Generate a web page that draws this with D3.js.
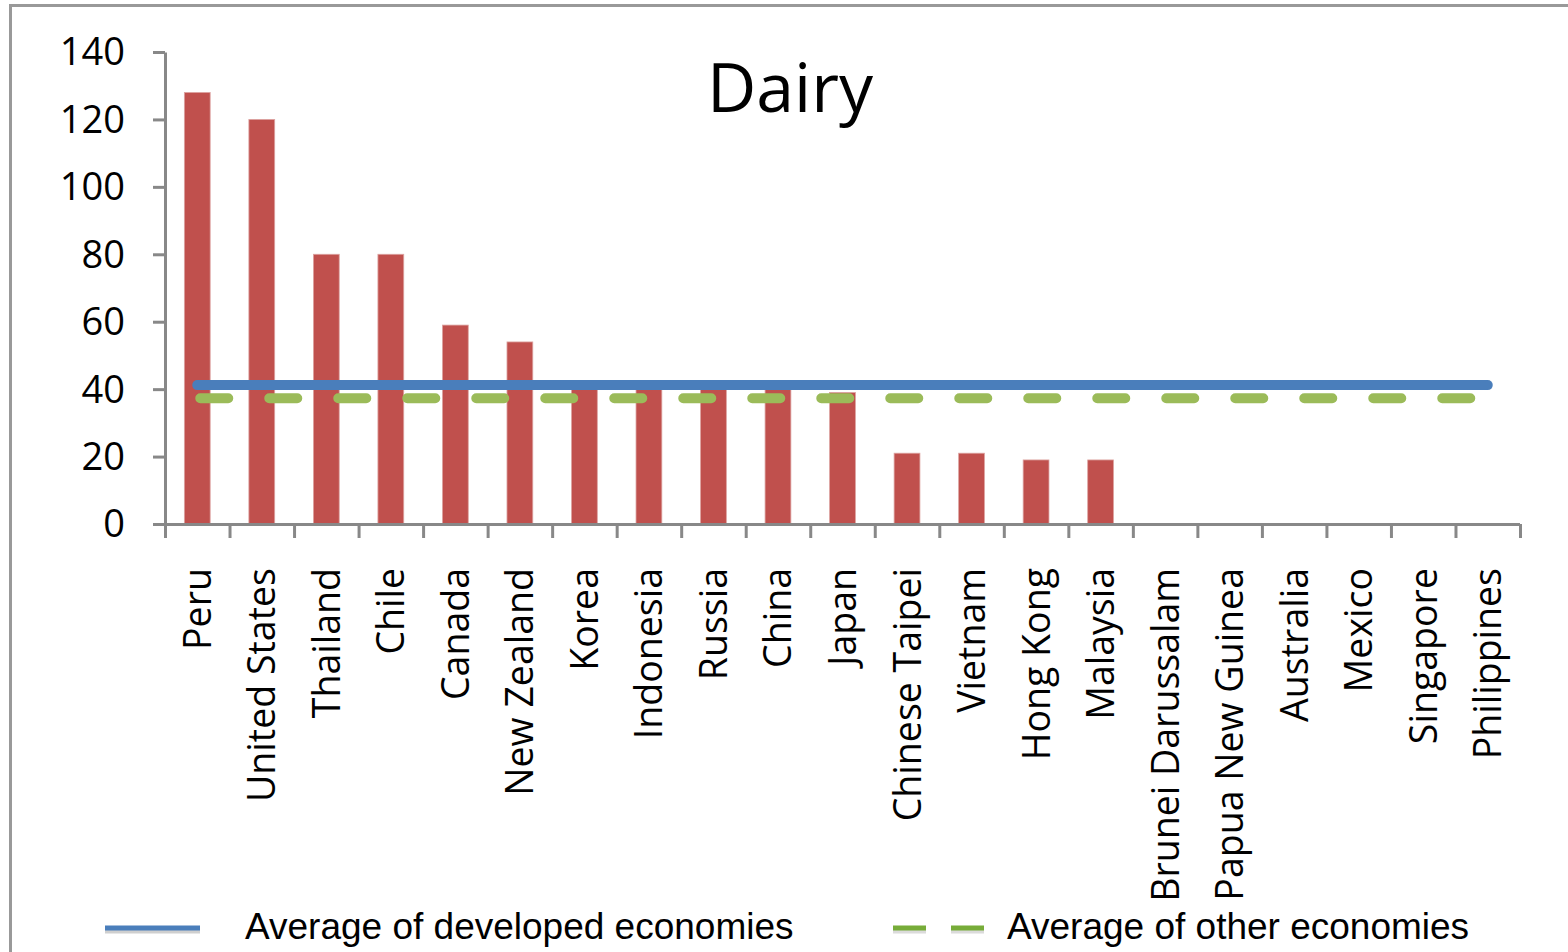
<!DOCTYPE html>
<html>
<head>
<meta charset="utf-8">
<script src="https://cdn.jsdelivr.net/npm/d3@7"></script>
<style>
  html, body { margin: 0; padding: 0; background: #fff; }
  svg { display: block; }
</style>
</head>
<body>
<svg id="chart" width="1568" height="952"></svg>
<script>
const categories = ["Peru","United States","Thailand","Chile","Canada","New Zealand","Korea","Indonesia","Russia","China","Japan","Chinese Taipei","Vietnam","Hong Kong","Malaysia","Brunei Darussalam","Papua New Guinea","Australia","Mexico","Singapore","Philippines"];
const values = [128,120,80,80,59,54,40,40,40,40,39,21,21,19,19,0,0,0,0,0,0];
const avgDeveloped = 41.2;
const avgOther = 37.3;
const yTicks = [0,20,40,60,80,100,120,140];
const title = "Dairy";
const legendLabels = ["Average of developed economies","Average of other economies"];

(function(){
const svg = d3.select("#chart");
const pLeft = 165, pRight = 1520, pTop = 52, pBottom = 524;

// frame
svg.append("path").attr("d", `M10.5,952 L10.5,5.5 L1568,5.5`).attr("fill","none").attr("stroke","#999").attr("stroke-width",3);

const y = d3.scaleLinear().domain([0,140]).range([pBottom, pTop]);
const x = d3.scaleBand().domain(categories).range([pLeft, pRight]).paddingInner(0.6).paddingOuter(0.3);
const xb = d3.scaleLinear().domain([0, categories.length]).range([pLeft, pRight]);

// bars
svg.append("g").selectAll("rect").data(categories).join("rect")
  .attr("x", d => x(d))
  .attr("width", x.bandwidth())
  .attr("y", (d,i) => y(values[i]))
  .attr("height", (d,i) => y(0) - y(values[i]))
  .attr("fill", "#c0504d")
  .attr("stroke", "#dca3a1").attr("stroke-width", 0.8);

// y axis
const ya = svg.append("g").attr("transform", `translate(${pLeft},0)`)
  .call(d3.axisLeft(y).tickValues(yTicks).tickSize(12).tickPadding(28).tickSizeOuter(0));
ya.select(".domain").attr("stroke","#888").attr("stroke-width",3);
ya.selectAll(".tick line").attr("stroke","#888").attr("stroke-width",3);
ya.selectAll(".tick text").attr("font-family","'Open Sans', sans-serif").attr("font-size",38).attr("fill","#000").attr("dy","0.34em");

// x axis ticks at boundaries
const xa = svg.append("g").attr("transform", `translate(0,${pBottom})`)
  .call(d3.axisBottom(xb).tickValues(d3.range(categories.length + 1)).tickSize(14).tickFormat("").tickSizeOuter(0));
xa.select(".domain").attr("stroke","#888").attr("stroke-width",3).attr("d", `M${pLeft-12},0.5H${pRight}`);
xa.selectAll(".tick line").attr("stroke","#888").attr("stroke-width",3);

// x labels
const xl = svg.append("g").attr("transform", `translate(0,${pBottom})`)
  .call(d3.axisBottom(x).tickSize(0).tickSizeOuter(0));
xl.select(".domain").remove();
xl.selectAll(".tick text")
  .attr("font-family","'Open Sans', sans-serif").attr("font-size",37.5).attr("fill","#000")
  .attr("text-anchor","end")
  .attr("transform","rotate(-90)")
  .attr("x", -44).attr("y", 0).attr("dy","0.36em");

// average lines
const cx = d => x(d) + x.bandwidth()/2;
svg.append("line")
  .attr("x1", cx(categories[0])).attr("x2", cx(categories[categories.length-1]))
  .attr("y1", y(avgDeveloped)).attr("y2", y(avgDeveloped))
  .attr("stroke","#4a7ebb").attr("stroke-width",10).attr("stroke-linecap","round");
svg.append("line")
  .attr("x1", cx(categories[0])+3).attr("x2", cx(categories[categories.length-1]))
  .attr("y1", y(avgOther)).attr("y2", y(avgOther))
  .attr("stroke","#9bbb59").attr("stroke-width",10).attr("stroke-linecap","round")
  .attr("stroke-dasharray","28,41");

// title
svg.append("text").attr("x", 790).attr("y", 112).attr("text-anchor","middle")
  .attr("font-family","'Open Sans', sans-serif").attr("font-size",68).attr("fill","#000").text(title);

// legend
const lg = svg.append("g");
lg.append("line").attr("x1",105).attr("x2",200).attr("y1",931).attr("y2",931).attr("stroke","#bbb").attr("stroke-width",5).attr("opacity",0.7);
lg.append("line").attr("x1",105).attr("x2",200).attr("y1",928).attr("y2",928).attr("stroke","#4a7ebb").attr("stroke-width",5);
lg.append("text").attr("x",245).attr("y",939).attr("font-family","'Liberation Sans', Arial, sans-serif").attr("font-size",37).attr("fill","#000").text(legendLabels[0]);
lg.append("line").attr("x1",893).attr("x2",984).attr("y1",931).attr("y2",931).attr("stroke","#ccc").attr("stroke-width",5).attr("opacity",0.7).attr("stroke-dasharray","33,25");
lg.append("line").attr("x1",893).attr("x2",984).attr("y1",928).attr("y2",928).attr("stroke","#77ac39").attr("stroke-width",5).attr("stroke-dasharray","33,25");
lg.append("text").attr("x",1007).attr("y",939).attr("font-family","'Liberation Sans', Arial, sans-serif").attr("font-size",37).attr("fill","#000").text(legendLabels[1]);
})();
</script>
</body>
</html>
